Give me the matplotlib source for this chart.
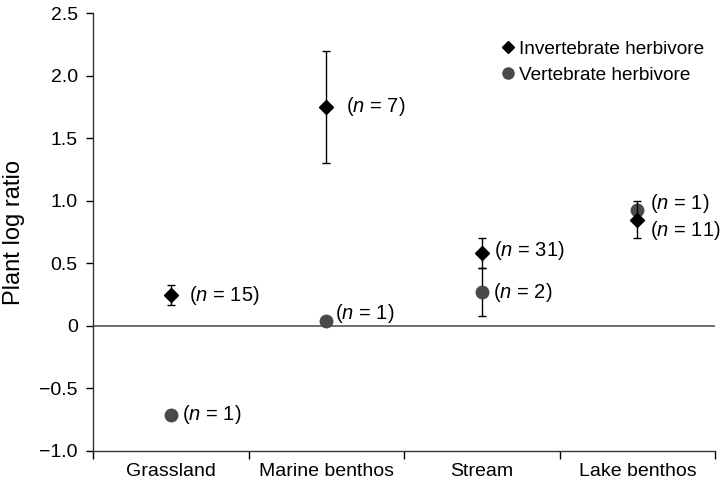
import matplotlib
matplotlib.use("Agg")
import matplotlib.pyplot as plt
from matplotlib.lines import Line2D
import numpy as np

plt.rcParams['font.family'] = ['Liberation Sans', 'DejaVu Sans']
plt.rcParams['mathtext.fontset'] = 'custom'
plt.rcParams['mathtext.it'] = 'Liberation Sans:italic'
plt.rcParams['mathtext.rm'] = 'Liberation Sans'

categories = ["Grassland", "Marine benthos", "Stream", "Lake benthos"]
invert_mean = [0.25, 1.75, 0.58, 0.85]
invert_err = [0.08, 0.45, 0.12, 0.15]
invert_n = [15, 7, 31, 11]
vert_mean = [-0.71, 0.04, 0.27, 0.93]
vert_err = [0.0, 0.0, 0.19, 0.0]
vert_n = [1, 1, 2, 1]
yticks = [-1.0, -0.5, 0, 0.5, 1.0, 1.5, 2.0, 2.5]
ytick_labels = ["\u22121.0", "\u22120.5", "0", "0.5", "1.0", "1.5", "2.0", "2.5"]

# label offsets in points (style only)
inv_off = [(13, -1), (14, 0), (9, 2), (9, -8)]
vert_off = [(8, 0), (6, 5), (8, 0), (9, 4)]

fig = plt.figure(figsize=(7.21, 4.88), dpi=100)
ax = fig.add_axes([0.129, 0.076, 0.863, 0.897])

x = np.arange(len(categories))
ax.axhline(0, color='#555555', lw=1.2, zorder=1)

vcol = '#4a4a4a'
ax.errorbar(x, vert_mean, yerr=vert_err, fmt='o', color=vcol, ecolor='black',
            elinewidth=1, capsize=3, capthick=1, markersize=9, zorder=3)
ax.errorbar(x, invert_mean, yerr=invert_err, fmt='D', color='black', ecolor='black',
            elinewidth=1, capsize=3, capthick=1, markersize=7, zorder=4)

for i in range(len(categories)):
    ax.annotate(r'($\it{n}$ = %d)' % invert_n[i], (x[i], invert_mean[i]),
                xytext=inv_off[i], textcoords='offset points',
                ha='left', va='center', fontsize=14.5)
    ax.annotate(r'($\it{n}$ = %d)' % vert_n[i], (x[i], vert_mean[i]),
                xytext=vert_off[i], textcoords='offset points',
                ha='left', va='center', fontsize=14.5)

ax.set_xlim(-0.5, 3.5)
ax.set_ylim(-1.0, 2.5)
ax.set_yticks(yticks)
ax.set_yticklabels(ytick_labels, fontsize=14)
ax.set_xticks(x)
ax.set_xticklabels(categories, fontsize=14)
ax.set_xticks([-0.5, 0.5, 1.5, 2.5, 3.5], minor=True)
ax.tick_params(axis='x', which='major', length=0, pad=9)
ax.tick_params(axis='x', which='minor', length=6, direction='out', width=1)
ax.tick_params(axis='y', length=5, direction='out', width=1, pad=6)
ax.set_ylabel('Plant log ratio', fontsize=17, labelpad=10)

for s in ['top', 'right']:
    ax.spines[s].set_visible(False)
for s in ['left', 'bottom']:
    ax.spines[s].set_linewidth(1)
    ax.spines[s].set_color('#333333')

handles = [Line2D([], [], marker='D', color='black', ls='none', markersize=6),
           Line2D([], [], marker='o', color=vcol, ls='none', markersize=8)]
ax.legend(handles, ['Invertebrate herbivore', 'Vertebrate herbivore'],
          loc='upper right', frameon=False, fontsize=13.7,
          handletextpad=0.1, handlelength=1.0, labelspacing=0.45,
          borderaxespad=0.0, bbox_to_anchor=(0.995, 0.955))

fig.savefig('out.png', dpi=100)
